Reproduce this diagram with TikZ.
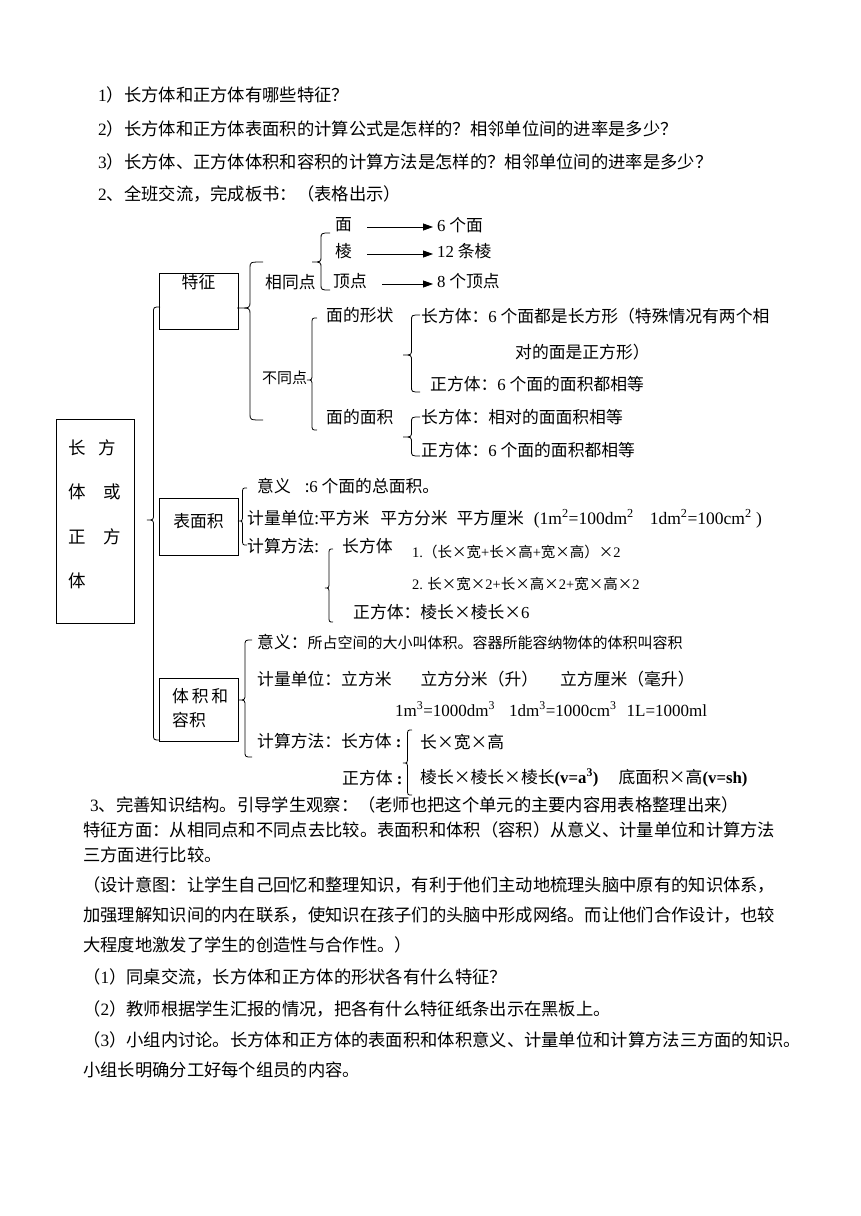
\documentclass[tikz,border=0pt]{standalone}
\usepackage{fontspec}
\setmainfont{Noto Sans CJK SC}
\newfontfamily\lat{Liberation Serif}
\usetikzlibrary{arrows.meta}
\newcommand{\dg}[1]{{\lat #1}}
% left curly brace: tip x, tip y, right x, top y, bottom y
\newcommand{\curl}[5]{%
  \pgfmathsetmacro\brmid{(#1+#3)/2}%
  \draw[brc] (#3,#4) .. controls (\brmid,#4) .. (\brmid,#4+6) -- (\brmid,#2-6)
    .. controls (\brmid,#2) .. (#1,#2) .. controls (\brmid,#2) .. (\brmid,#2+6)
    -- (\brmid,#5-6) .. controls (\brmid,#5) .. (#3,#5);}

\begin{document}
\begin{tikzpicture}[x=1pt,y=-1pt,
  txt/.style={anchor=west,inner sep=0pt,text height=0.82em,text depth=0.18em,font=\fontsize{16.8}{20}\selectfont},
  body/.style={txt,font=\fontsize{17.3}{20}\selectfont},
  small/.style={txt,font=\fontsize{15}{18}\selectfont},
  tiny/.style={txt,font=\fontsize{14.5}{18}\selectfont},
  box/.style={draw,line width=0.8pt,inner sep=0pt,anchor=north west},
  arr/.style={-{Triangle[length=10pt,width=7pt]},line width=0.8pt,shorten <=15pt,shorten >=4pt},
  brc/.style={line width=0.8pt}]
  \path[use as bounding box,fill=white] (0,0) rectangle (860,1216);
  % questions
  \node[body] (q1) at (98,98) {\dg{1}）长方体和正方体有哪些特征？};
  \node[body] (q2) at (98,132) {\dg{2}）长方体和正方体表面积的计算公式是怎样的？相邻单位间的进率是多少？};
  \node[body] (q3) at (98,165) {\dg{3}）长方体、正方体体积和容积的计算方法是怎样的？相邻单位间的进率是多少？};
  \node[body] (step2) at (98,197) {\dg{2}、全班交流，完成板书：（表格出示）};
  % main box and brace
  \node[box,minimum width=78pt,minimum height=204pt] (mainbox) at (56,419) {};
  \node[anchor=north west,inner sep=0pt,align=left,font=\fontsize{17.5}{44.5}\selectfont] (maintxt) at (68,439)
    {长\hspace{12.5pt}方\\体\hspace{17.5pt}或\\正\hspace{17.5pt}方\\体};
  \curl{147}{520}{160}{307}{740}
  % features
  \node[box,minimum width=79pt,minimum height=56pt] (tzbox) at (159,273) {};
  \node[txt,anchor=center] (tz) at (198.5,285) {特征};
  \curl{237}{308}{263}{262}{420}
  \node[txt] (same) at (265,285) {相同点};
  \curl{312}{262}{330}{233}{290}
  \node[txt] (mian) at (335,227) {面};
  \node[txt] (leng) at (335,254) {棱};
  \node[txt] (ding) at (333,284) {顶点};
  \node[txt] (mianr) at (437,228) {\dg{6} 个面};
  \node[txt] (lengr) at (437,254) {\dg{12} 条棱};
  \node[txt] (dingr) at (437,284) {\dg{8} 个顶点};
  \draw[arr] (mian.east) -- (mian.east -| mianr.west);
  \draw[arr] (leng.east) -- (leng.east -| lengr.west);
  \draw[arr] (ding.east) -- (ding.east -| dingr.west);
  \node[small] (diff) at (262,380) {不同点};
  \curl{307}{380}{317}{318}{430}
  \node[txt] (shape) at (326,318) {面的形状};
  \node[txt] (area) at (326,420) {面的面积};
  \curl{403}{355}{420}{315}{392}
  \node[txt] (shape1) at (421,319) {长方体：\dg{6} 个面都是长方形（特殊情况有两个相};
  \node[txt] (shape1b) at (515,355) {对的面是正方形）};
  \node[txt] (shape2) at (430,387) {正方体：\dg{6} 个面的面积都相等};
  \curl{403}{437}{420}{417}{456}
  \node[txt] (area1) at (421,420) {长方体：相对的面面积相等};
  \node[txt] (area2) at (421,453) {正方体：\dg{6} 个面的面积都相等};
  % surface area
  \node[box,minimum width=79pt,minimum height=57pt] (bmjbox) at (159,498) {};
  \node[txt,anchor=center] (bmj) at (198.5,524) {表面积};
  \curl{238}{521}{247}{488}{545}
  \node[txt] (bmean) at (257,489) {意义\hspace{14pt}:\dg{6} 个面的总面积。};
  \node[txt] (bunit) at (247,521) {计量单位:平方米\hspace{11pt}平方分米\hspace{9pt}平方厘米\hspace{10pt}{\lat\fontsize{17.5}{20}\selectfont (1m\textsuperscript{2}=100dm\textsuperscript{2}\hspace{16pt}1dm\textsuperscript{2}=100cm\textsuperscript{2} )}};
  \node[txt] (bcalc) at (247,549) {计算方法:};
  \curl{325}{588}{333}{549}{622}
  \node[txt] (bcub) at (342,549) {长方体};
  \node[tiny] (bf1) at (412,554) {\dg{1.}（长×宽\dg{+}长×高\dg{+}宽×高）×\dg{2}};
  \node[tiny] (bf2) at (412,586) {\dg{2.} 长×宽×\dg{2+}长×高×\dg{2+}宽×高×\dg{2}};
  \node[txt] (bsq) at (353,615) {正方体：棱长×棱长×\dg{6}};
  % volume
  \node[box,minimum width=79pt,minimum height=63pt] (tjbox) at (159,678) {};
  \node[anchor=north west,inner sep=0pt,align=left,font=\fontsize{16.8}{24}\selectfont] (tj) at (172,688) {体\,积\,和\\容积};
  \curl{238}{700}{252}{640}{757}
  \node[txt] (vmean) at (257,645) {意义：{\fontsize{15}{18}\selectfont 所占空间的大小叫体积。容器所能容纳物体的体积叫容积}};
  \node[txt] (vunit) at (257,682) {计量单位：立方米\hspace{29pt}立方分米（升）\hspace{22pt}立方厘米（毫升）};
  \node[txt,font=\lat\fontsize{17}{20}\selectfont] (vrate) at (395,713) {1m\textsuperscript{3}=1000dm\textsuperscript{3}\hspace{14pt}1dm\textsuperscript{3}=1000cm\textsuperscript{3}\hspace{10pt}1L=1000ml};
  \node[txt] (vcalc) at (257,744) {计算方法：长方体{\lat\bfseries\ :}};
  \node[txt] (vsq) at (342,781) {正方体{\lat\bfseries\ :}};
  \curl{403}{763}{412}{730}{795}
  \node[txt] (vf1) at (420,745) {长×宽×高};
  \node[txt] (vf2) at (420,780) {棱长×棱长×棱长{\lat\bfseries (v=a\textsuperscript{3})}\hspace{20pt}底面积×高{\lat\bfseries (v=sh)}};
  % closing text
  \node[body] (step3) at (90,808) {\dg{3}、完善知识结构。引导学生观察：（老师也把这个单元的主要内容用表格整理出来）};
  \node[body] (t1) at (83,833) {特征方面：从相同点和不同点去比较。表面积和体积（容积）从意义、计量单位和计算方法};
  \node[body] (t2) at (83,858) {三方面进行比较。};
  \node[body] (t3) at (83,888) {（设计意图：让学生自己回忆和整理知识，有利于他们主动地梳理头脑中原有的知识体系，};
  \node[body] (t4) at (83,918) {加强理解知识间的内在联系，使知识在孩子们的头脑中形成网络。而让他们合作设计，也较};
  \node[body] (t5) at (83,948) {大程度地激发了学生的创造性与合作性。）};
  \node[body] (t6) at (83,980) {（\dg{1}）同桌交流，长方体和正方体的形状各有什么特征？};
  \node[body] (t7) at (83,1012) {（\dg{2}）教师根据学生汇报的情况，把各有什么特征纸条出示在黑板上。};
  \node[body] (t8) at (83,1043) {（\dg{3}）小组内讨论。长方体和正方体的表面积和体积意义、计量单位和计算方法三方面的知识。};
  \node[body] (t9) at (83,1073) {小组长明确分工好每个组员的内容。};
\end{tikzpicture}
\end{document}
